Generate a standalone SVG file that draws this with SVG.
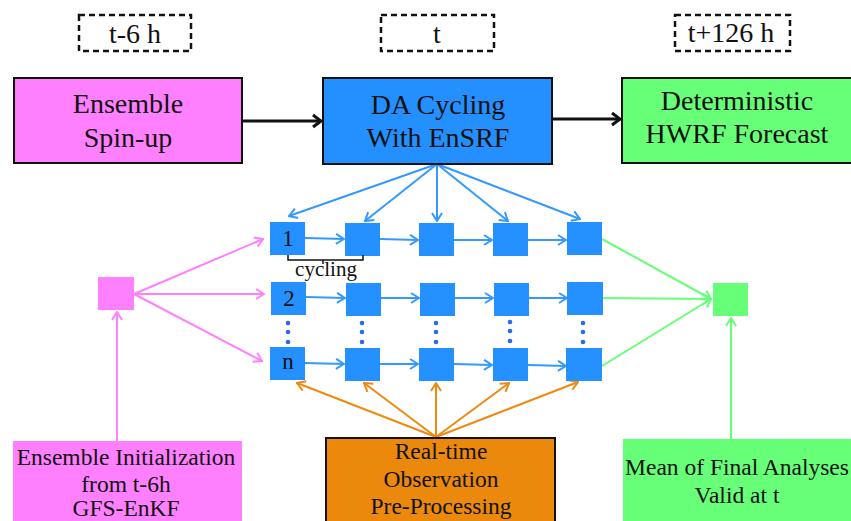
<svg xmlns="http://www.w3.org/2000/svg" width="851" height="521" viewBox="0 0 851 521">
<style>
text{font-family:"Liberation Serif","Times New Roman",serif;fill:#111;text-anchor:middle}
.big{font-size:28px}
.small{font-size:23.5px}
.lab{font-size:23px}
.dash{fill:none;stroke:#111;stroke-width:2.5;stroke-dasharray:6,4}
.box{stroke:#111;stroke-width:2}
.sq{fill:#2590FF}
.blue{stroke:#3399FF;stroke-width:2;fill:none;marker-end:url(#mb)}
.pink{stroke:#FF80FF;stroke-width:2;fill:none;marker-end:url(#mp)}
.green{stroke:#66FF77;stroke-width:2;fill:none;marker-end:url(#mg)}
.orange{stroke:#EE8A10;stroke-width:2;fill:none;marker-end:url(#mo)}
.black{stroke:#111;stroke-width:3;fill:none;marker-end:url(#mk)}
.dot{fill:#2a6af0}
</style>
<defs>
<marker id="mb" viewBox="0 0 10 12" refX="9" refY="6" markerWidth="10" markerHeight="12" markerUnits="userSpaceOnUse" orient="auto"><path d="M1,1 L9,6 L1,11" fill="none" stroke="#3399FF" stroke-width="2"/></marker>
<marker id="mp" viewBox="0 0 10 12" refX="9" refY="6" markerWidth="10" markerHeight="12" markerUnits="userSpaceOnUse" orient="auto"><path d="M1,1 L9,6 L1,11" fill="none" stroke="#FF80FF" stroke-width="2"/></marker>
<marker id="mg" viewBox="0 0 10 12" refX="9" refY="6" markerWidth="10" markerHeight="12" markerUnits="userSpaceOnUse" orient="auto"><path d="M1,1 L9,6 L1,11" fill="none" stroke="#66FF77" stroke-width="2"/></marker>
<marker id="mo" viewBox="0 0 10 12" refX="9" refY="6" markerWidth="10" markerHeight="12" markerUnits="userSpaceOnUse" orient="auto"><path d="M1,1 L9,6 L1,11" fill="none" stroke="#EE8A10" stroke-width="2"/></marker>
<marker id="mk" viewBox="0 0 12 16" refX="10" refY="8" markerWidth="12" markerHeight="16" markerUnits="userSpaceOnUse" orient="auto"><path d="M2,2 L10,8 L2,14" fill="none" stroke="#111" stroke-width="3"/></marker>
</defs>

<g id="time-labels">
<g id="t-6h"><rect class="dash" x="79" y="15" width="112" height="36"/><text class="big" x="135" y="43">t-6 h</text></g>
<g id="t"><rect class="dash" x="381" y="15" width="113" height="36"/><text class="big" x="437" y="43">t</text></g>
<g id="t126h"><rect class="dash" x="675" y="15" width="115" height="36"/><text class="big" x="731" y="42">t+126 h</text></g>
</g>

<g id="connectors">
<line class="black" x1="243" y1="121" x2="321" y2="121"/>
<line class="black" x1="553" y1="119" x2="620" y2="119"/>
<line class="blue" x1="437" y1="164" x2="289" y2="216"/>
<line class="blue" x1="437" y1="164" x2="365" y2="221"/>
<line class="blue" x1="437" y1="164" x2="437" y2="221"/>
<line class="blue" x1="437" y1="164" x2="508" y2="221"/>
<line class="blue" x1="437" y1="164" x2="580" y2="219"/>
<line class="blue" x1="305" y1="238" x2="344" y2="239"/>
<line class="blue" x1="380" y1="239" x2="418" y2="240"/>
<line class="blue" x1="454" y1="240" x2="492" y2="240"/>
<line class="blue" x1="528" y1="240" x2="566" y2="240"/>
<line class="blue" x1="306" y1="297" x2="345" y2="298"/>
<line class="blue" x1="381" y1="298" x2="419" y2="298"/>
<line class="blue" x1="455" y1="298" x2="493" y2="298"/>
<line class="blue" x1="529" y1="298" x2="567" y2="298"/>
<line class="blue" x1="305" y1="363" x2="344" y2="364"/>
<line class="blue" x1="380" y1="364" x2="418" y2="364"/>
<line class="blue" x1="454" y1="364" x2="492" y2="365"/>
<line class="blue" x1="528" y1="365" x2="566" y2="366"/>
<line class="pink" x1="134" y1="294" x2="263" y2="239"/>
<line class="pink" x1="134" y1="294" x2="264" y2="294"/>
<line class="pink" x1="134" y1="294" x2="262" y2="361"/>
<line class="pink" x1="117" y1="441" x2="117" y2="312"/>
<line class="green" x1="602" y1="239" x2="711" y2="299"/>
<line class="green" x1="603" y1="298" x2="711" y2="299"/>
<line class="green" x1="602" y1="366" x2="711" y2="299"/>
<line class="green" x1="731" y1="439" x2="731" y2="318"/>
<line class="orange" x1="436" y1="437" x2="297" y2="383"/>
<line class="orange" x1="436" y1="437" x2="364" y2="383"/>
<line class="orange" x1="436" y1="437" x2="436" y2="383"/>
<line class="orange" x1="436" y1="437" x2="509" y2="383"/>
<line class="orange" x1="436" y1="437" x2="578" y2="382"/>
</g>

<g id="ensemble-spinup"><rect class="box" x="14" y="78" width="228" height="85" fill="#FF80FF"/><text class="big" x="128" y="113">Ensemble</text><text class="big" x="128" y="147">Spin-up</text></g>
<g id="da-cycling"><rect class="box" x="323" y="78" width="229" height="86" fill="#2490FF"/><text class="big" x="438" y="114">DA Cycling</text><text class="big" x="438" y="147">With EnSRF</text></g>
<g id="hwrf-forecast"><rect class="box" x="622" y="78" width="240" height="85" fill="#66FF77"/><text class="big" x="737" y="110">Deterministic</text><text class="big" x="737" y="143">HWRF Forecast</text></g>

<g id="pink-square"><rect x="98" y="277" width="36" height="33" fill="#FF80FF"/></g>
<g id="green-square"><rect x="713" y="283" width="35" height="33" fill="#66FF77"/></g>

<g id="member-1">
<rect class="sq" x="270" y="222" width="35" height="33"/><text class="lab" x="288" y="246">1</text>
<rect class="sq" x="345" y="223" width="35" height="33"/>
<rect class="sq" x="419" y="223" width="35" height="33"/>
<rect class="sq" x="493" y="223" width="35" height="33"/>
<rect class="sq" x="567" y="222" width="35" height="33"/>
</g>
<g id="member-2">
<rect class="sq" x="271" y="282" width="35" height="33"/><text class="lab" x="289" y="306">2</text>
<rect class="sq" x="346" y="283" width="35" height="33"/>
<rect class="sq" x="420" y="283" width="35" height="33"/>
<rect class="sq" x="494" y="283" width="35" height="33"/>
<rect class="sq" x="567" y="282" width="36" height="33"/>
</g>
<g id="member-n">
<rect class="sq" x="270" y="347" width="35" height="33"/><text class="lab" x="288" y="369">n</text>
<rect class="sq" x="345" y="348" width="35" height="33"/>
<rect class="sq" x="419" y="348" width="35" height="33"/>
<rect class="sq" x="493" y="348" width="35" height="33"/>
<rect class="sq" x="566" y="348" width="36" height="33"/>
</g>
<g id="dots">
<circle class="dot" cx="288" cy="323" r="2.3"/><circle class="dot" cx="288" cy="332" r="2.3"/><circle class="dot" cx="288" cy="342" r="2.3"/>
<circle class="dot" cx="362" cy="323" r="2.3"/><circle class="dot" cx="362" cy="332" r="2.3"/><circle class="dot" cx="362" cy="342" r="2.3"/>
<circle class="dot" cx="436" cy="323" r="2.3"/><circle class="dot" cx="436" cy="332" r="2.3"/><circle class="dot" cx="436" cy="342" r="2.3"/>
<circle class="dot" cx="510" cy="322" r="2.3"/><circle class="dot" cx="510" cy="331" r="2.3"/><circle class="dot" cx="510" cy="341" r="2.3"/>
<circle class="dot" cx="583" cy="323" r="2.3"/><circle class="dot" cx="583" cy="332" r="2.3"/><circle class="dot" cx="583" cy="342" r="2.3"/>
</g>
<g id="cycling-label">
<path d="M288,255 V260 H363 V255 M323,260 V264" fill="none" stroke="#111" stroke-width="1.5"/>
<text x="326" y="276" style="font-size:21px">cycling</text>
</g>

<g id="ensemble-init"><rect x="13" y="441" width="229" height="90" fill="#FF80FF"/><text class="small" x="126" y="465">Ensemble Initialization</text><text class="small" x="126" y="492">from t-6h</text><text class="small" x="126" y="516">GFS-EnKF</text></g>
<g id="obs-preprocessing"><rect class="box" x="326" y="438" width="229" height="95" fill="#EA890B"/><text class="small" x="441" y="459">Real-time</text><text class="small" x="441" y="487">Observation</text><text class="small" x="441" y="514">Pre-Processing</text></g>
<g id="mean-analyses"><rect x="623" y="439" width="240" height="92" fill="#66FF77"/><text class="small" x="737" y="475">Mean of Final Analyses</text><text class="small" x="737" y="503">Valid at t</text></g>
</svg>
